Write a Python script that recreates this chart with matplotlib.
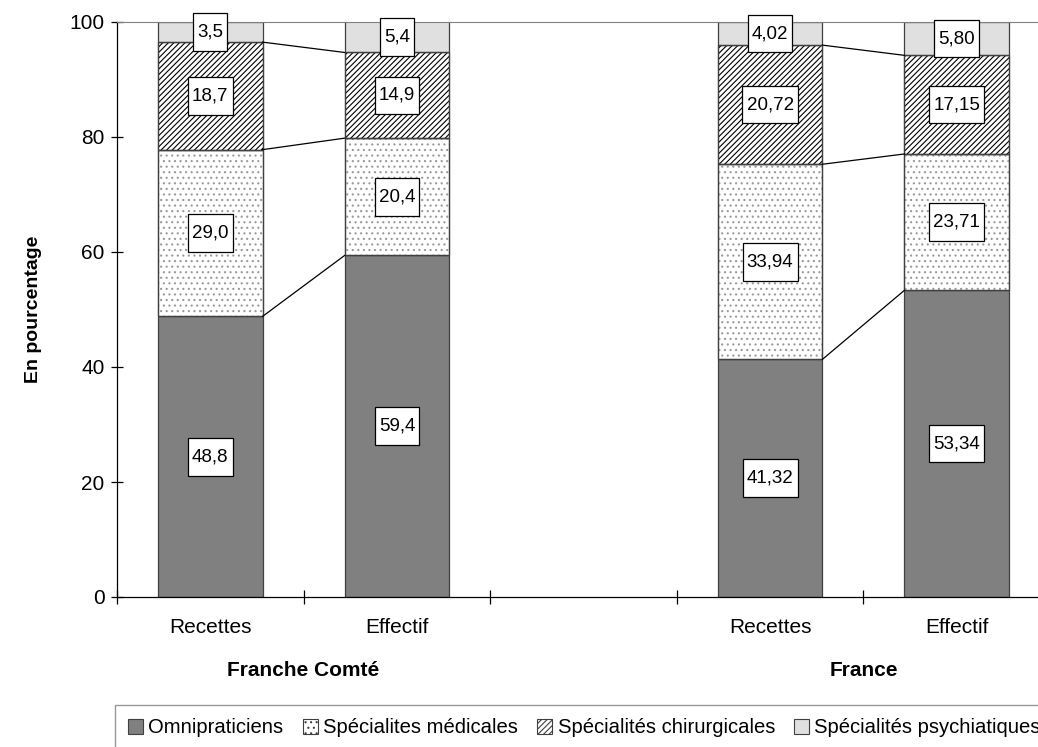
import matplotlib
matplotlib.use('Agg')
import matplotlib.pyplot as plt
from matplotlib.patches import Patch
from matplotlib.path import Path
from matplotlib.transforms import blended_transform_factory

plt.rcParams['font.family'] = ['Liberation Sans', 'DejaVu Sans']
plt.rcParams['hatch.linewidth'] = 0.8

# data
categories = ['Recettes', 'Effectif', '', 'Recettes', 'Effectif']
groups = ['Franche Comté', 'France']
group_pos = [0.5, 3.5]
bar_pos = [0, 1, 3, 4]
decimals = [1, 1, 2, 2]

omni = [48.8, 59.4, 41.32, 53.34]
medic = [29.0, 20.4, 33.94, 23.71]
chir = [18.7, 14.9, 20.72, 17.15]
psy = [3.5, 5.4, 4.02, 5.80]

series = [omni, medic, chir, psy]
names = ['Omnipraticiens', 'Spécialites médicales', 'Spécialités chirurgicales',
         'Spécialités psychiatiques']
colors = ['#808080', 'white', 'white', '#e0e0e0']
hatches = [None, '...', '//////', None]
hcolors = ['#404040', '#9a9a9a', 'black', '#404040']


def label_box(x0, y0, width, height, mutation_size):
    # rectangular box, more padding above/below than on the sides
    px = 0.22 * mutation_size
    py = 0.55 * mutation_size
    x0, y0 = x0 - px, y0 - py
    x1, y1 = x0 + width + 2 * px, y0 + height + 2 * py
    return Path([(x0, y0), (x1, y0), (x1, y1), (x0, y1), (x0, y0)], closed=True)


fig = plt.figure(figsize=(10.38, 7.47), dpi=100)
ax = fig.add_axes([117/1038, 150/747, 933/1038, 575/747])

w = 0.56
bottoms = [0, 0, 0, 0]
tops_all = []
for s, vals in enumerate(series):
    for i, x in enumerate(bar_pos):
        ax.bar(x, vals[i], w, bottom=bottoms[i], color=colors[s],
               edgecolor='#404040', linewidth=0.9, zorder=2)
        if hatches[s]:
            ax.bar(x, vals[i], w, bottom=bottoms[i], color='none',
                   edgecolor=hcolors[s], linewidth=0, hatch=hatches[s], zorder=2)
            ax.bar(x, vals[i], w, bottom=bottoms[i], color='none',
                   edgecolor='#404040', linewidth=0.9, zorder=3)
        txt = f'{vals[i]:.{decimals[i]}f}'.replace('.', ',')
        ax.text(x, bottoms[i] + vals[i] / 2, txt, ha='center', va='center',
                fontsize=13.5, zorder=5,
                bbox=dict(boxstyle=label_box, fc='white', ec='black', lw=0.9))
    bottoms = [bottoms[i] + vals[i] for i in range(4)]
    tops_all.append(list(bottoms))

# series lines between bars of same group
for tops in tops_all[:3]:
    for a, b in [(0, 1), (2, 3)]:
        ax.plot([bar_pos[a] + w/2, bar_pos[b] - w/2], [tops[a], tops[b]],
                color='black', lw=0.9, zorder=4)

ax.set_xlim(-0.5, 4.5)
ax.set_ylim(0, 100)
ax.set_yticks([0, 20, 40, 60, 80, 100])
ax.tick_params(axis='y', direction='inout', length=8, width=0.9, labelsize=15, pad=5)
ax.set_xticks([-0.5, 0.5, 1.5, 2.5, 3.5, 4.5])
ax.set_xticklabels([])
ax.tick_params(axis='x', which='major', direction='inout', length=10, width=0.9)
ax.set_xticks(range(5), minor=True)
ax.set_xticklabels(categories, minor=True)
ax.tick_params(axis='x', which='minor', length=0, labelsize=15, pad=15)

ax.spines['top'].set_color('#808080')
ax.spines['right'].set_color('#808080')
ax.spines['left'].set_linewidth(0.9)
ax.spines['bottom'].set_linewidth(0.9)

ax.set_ylabel('En pourcentage', fontsize=14, fontweight='bold', labelpad=20)

trans = blended_transform_factory(ax.transData, fig.transFigure)
for g, gx in zip(groups, group_pos):
    ax.text(gx, 1 - 671/747, g, transform=trans,
            ha='center', va='center', fontsize=15, fontweight='bold')

handles = [Patch(facecolor=colors[s], edgecolor='#404040', hatch=hatches[s], lw=0.8)
           for s in range(4)]
leg = fig.legend(handles, names, loc='upper left', bbox_to_anchor=(115/1038, 1 - 705/747),
                 ncol=4, fontsize=14.6, frameon=True, fancybox=False,
                 handlelength=0.75, handleheight=0.75, handletextpad=0.25,
                 columnspacing=0.95, borderpad=0.65, borderaxespad=0)
leg.get_frame().set_edgecolor('#808080')
leg.get_frame().set_linewidth(1.0)

fig.savefig('out.png', dpi=100)
